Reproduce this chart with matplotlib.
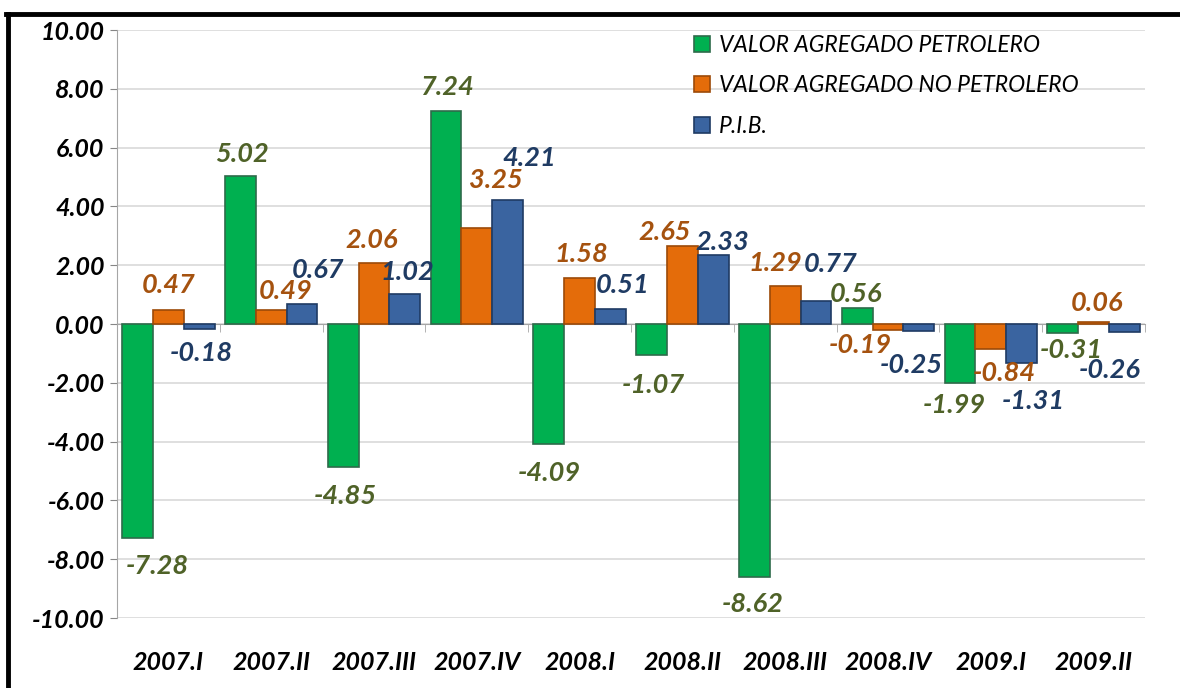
import matplotlib.pyplot as plt
import matplotlib.transforms as mtransforms
from matplotlib.lines import Line2D
import numpy as np

# quarters and growth rates (%)
quarters = ['2007.I', '2007.II', '2007.III', '2007.IV', '2008.I',
            '2008.II', '2008.III', '2008.IV', '2009.I', '2009.II']
petrolero = [-7.28, 5.02, -4.85, 7.24, -4.09, -1.07, -8.62, 0.56, -1.99, -0.31]
no_petrolero = [0.47, 0.49, 2.06, 3.25, 1.58, 2.65, 1.29, -0.19, -0.84, 0.06]
pib = [-0.18, 0.67, 1.02, 4.21, 0.51, 2.33, 0.77, -0.25, -1.31, -0.26]

names = ['VALOR AGREGADO PETROLERO', 'VALOR AGREGADO NO PETROLERO', 'P.I.B.']
bar_colors = ['#00B050', '#E46C0A', '#3A64A0']
edge_colors = ['#2E6B4A', '#9C4A08', '#1F3B63']
label_colors = ['#4F6228', '#A5520F', '#1F3B63']

# label offsets (pixels) from the bar end, as placed in the original chart
offs_pet = [(20, -28), (2, 22), (2, -29), (2, 24), (1, -29), (2, -30),
            (-2, -27), (-1, 14), (-6, -22), (9, -17)]
offs_nopet = [(0, 25), (14, 19), (-2, 23), (19, 48), (2, 24), (-18, 14),
              (-10, 23), (-28, -15), (13, -24), (3, 19)]
offs_pib = [(2, -24), (16, 34), (2, 22), (22, 42), (12, 24), (9, 13),
            (15, 37), (-8, -34), (12, -38), (-15, -38)]

font = {'family': 'Lato', 'weight': 'bold', 'style': 'italic'}

fig = plt.figure(figsize=(11.8, 6.88), dpi=100)
ax = fig.add_axes([117 / 1180, 1 - 618 / 688, 1028 / 1180, 588 / 688])

x = np.arange(len(quarters))
width = 0.3
series = [petrolero, no_petrolero, pib]
offsets = [offs_pet, offs_nopet, offs_pib]

for k, vals in enumerate(series):
    xs = x + (k - 1) * width
    ax.bar(xs, vals, width, color=bar_colors[k], edgecolor=edge_colors[k],
           linewidth=1.2, label=names[k], zorder=3)
    for xi, v, (dx, dy) in zip(xs, vals, offsets[k]):
        ax.annotate('%.2f' % v, xy=(xi, v), xytext=(dx, dy),
                    textcoords='offset pixels', ha='center', va='center',
                    color=label_colors[k], fontsize=19.5, zorder=5, **font)

ax.set_xlim(-0.5, len(quarters) - 0.5)
ax.set_ylim(-10, 10)
ax.set_yticks(np.arange(-10, 10.1, 2))
ax.set_yticklabels(['%.2f' % t for t in np.arange(-10, 10.1, 2)],
                   fontsize=18, color='black', **font)
ax.yaxis.grid(True, color='#D9D9D9', linewidth=1.2, zorder=0)
ax.tick_params(axis='y', length=5, color='#868686', pad=4)

# category axis sits on zero, ticks between groups
ax.spines['bottom'].set_position(('data', 0))
ax.spines['bottom'].set_color('#A6A6A6')
ax.spines['left'].set_color('#A6A6A6')
ax.spines['top'].set_visible(False)
ax.spines['right'].set_visible(False)
ax.set_xticks(x)
ax.set_xticklabels([])
ax.tick_params(axis='x', which='major', length=0)
ax.set_xticks(np.arange(-0.5, len(quarters), 1), minor=True)
ax.tick_params(axis='x', which='minor', length=6, color='#A6A6A6')

trans = mtransforms.blended_transform_factory(ax.transData, ax.transAxes)
for xi, q in zip(x, quarters):
    ax.text(xi, -0.076, q, transform=trans, ha='center', va='center',
            fontsize=18, color='black', **font)

leg = ax.legend(loc='upper left', bbox_to_anchor=(0.548, 1.015), frameon=False,
                prop={'family': 'Lato', 'style': 'italic', 'size': 16.5},
                handlelength=0.7, handleheight=0.7, handletextpad=0.4,
                labelspacing=0.85, borderpad=0.1)

# black frame on the top and left
fig.add_artist(Line2D([6 / 1180, 1], [1 - 14 / 688] * 2, transform=fig.transFigure,
                      color='black', linewidth=3.5))
fig.add_artist(Line2D([8 / 1180] * 2, [0, 1 - 14 / 688], transform=fig.transFigure,
                      color='black', linewidth=3.5))

fig.savefig('out.png', dpi=100)
